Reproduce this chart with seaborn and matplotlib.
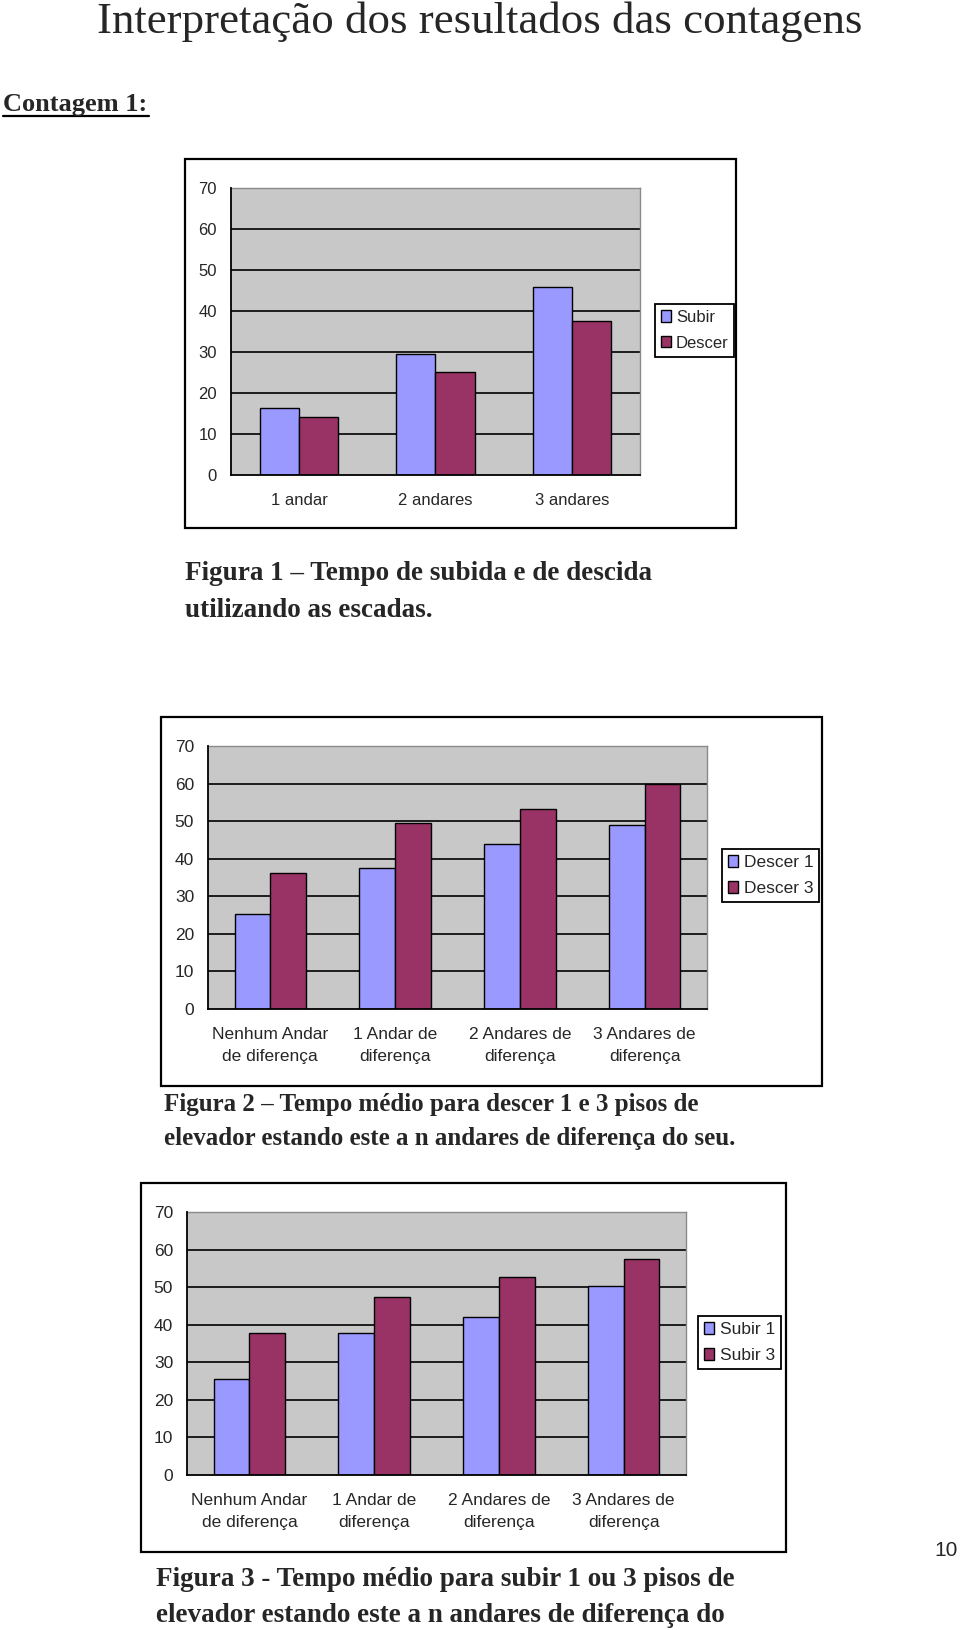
import numpy as np
import pandas as pd
import matplotlib
matplotlib.use('Agg')
import matplotlib.pyplot as plt
import seaborn as sns
from matplotlib.patches import Rectangle, Patch
from matplotlib.lines import Line2D

sns.set_style('white')
plt.rcParams['font.family'] = ['Liberation Sans', 'DejaVu Sans']

# ---------------- data ----------------
fig1_categories = ['1 andar', '2 andares', '3 andares']
fig1_series = ['Subir', 'Descer']
fig1_subir = [16.3, 29.5, 45.8]
fig1_descer = [14.2, 25.2, 37.6]

fig23_categories = ['Nenhum Andar\nde diferença', '1 Andar de\ndiferença',
                    '2 Andares de\ndiferença', '3 Andares de\ndiferença']
fig2_series = ['Descer 1', 'Descer 3']
fig2_descer1 = [25.2, 37.5, 43.9, 48.9]
fig2_descer3 = [36.3, 49.6, 53.1, 60.0]

fig3_series = ['Subir 1', 'Subir 3']
fig3_subir1 = [25.6, 37.8, 42.1, 50.2]
fig3_subir3 = [37.8, 47.5, 52.8, 57.5]

y_ticks = [0, 10, 20, 30, 40, 50, 60, 70]

page_title = 'Interpretação dos resultados das contagens'
section_title = 'Contagem 1:'
caption1 = ['Figura 1 – Tempo de subida e de descida', 'utilizando as escadas.']
caption2 = ['Figura 2 – Tempo médio para descer 1 e 3 pisos de',
            'elevador estando este a n andares de diferença do seu.']
caption3 = ['Figura 3 - Tempo médio para subir 1 ou 3 pisos de',
            'elevador estando este a n andares de diferença do']
page_number = '10'

# ---------------- style ----------------
W, H = 960, 1630
BLUE = '#9999FF'
PURPLE = '#993366'
PLOT_BG = '#C8C8C8'
SERIF = ['Liberation Serif', 'DejaVu Serif']
FS = 12.5

fig = plt.figure(figsize=(W / 100, H / 100), dpi=100)
fig.patch.set_facecolor('white')


def fx(x):
    return x / W


def fy(y):
    return 1 - y / H


def add_box(x0, y0, x1, y1):
    fig.patches.append(Rectangle((fx(x0), fy(y1)), fx(x1) - fx(x0), fy(y0) - fy(y1),
                                 transform=fig.transFigure, fill=False,
                                 edgecolor='black', linewidth=1.6))


def chart(plot_px, box_px, categories, s1, s2, names, legend_xy, fs=FS):
    add_box(*box_px)
    x0, y0, x1, y1 = plot_px
    ax = fig.add_axes([fx(x0), fy(y1), fx(x1) - fx(x0), fy(y0) - fy(y1)])
    n = len(categories)
    df = pd.DataFrame({'cat': list(categories) * 2,
                       'val': list(s1) + list(s2),
                       'serie': [names[0]] * n + [names[1]] * n})
    sns.barplot(data=df, x='cat', y='val', hue='serie', palette=[BLUE, PURPLE],
                width=0.575, edgecolor='black', linewidth=1.0, saturation=1,
                legend=False, errorbar=None, ax=ax, zorder=3)
    ax.set_facecolor(PLOT_BG)
    ax.set_xlim(-0.5, n - 0.5)
    ax.set_ylim(0, 70)
    ax.set_yticks(y_ticks)
    ax.set_yticklabels([str(v) for v in y_ticks], fontsize=fs)
    for v in y_ticks[1:-1]:
        ax.axhline(v, color='black', linewidth=1.2, zorder=1)
    ax.set_xticks(range(n))
    ax.set_xticklabels(categories, fontsize=fs, linespacing=1.6)
    ax.set_xticks(np.arange(-0.5, n, 1.0), minor=True)
    ax.tick_params(axis='x', which='major', length=0, pad=13)
    ax.tick_params(axis='x', which='minor', length=6, width=1.2, color='black', direction='out')
    ax.tick_params(axis='y', length=6, width=1.2, color='black', direction='out', pad=4)
    ax.set_xlabel('')
    ax.set_ylabel('')
    for s in ['left', 'bottom']:
        ax.spines[s].set_color('black')
        ax.spines[s].set_linewidth(1.3)
    for s in ['top', 'right']:
        ax.spines[s].set_color('#8a8a8a')
        ax.spines[s].set_linewidth(1.0)
    ax.spines['left'].set_zorder(5)
    ax.spines['bottom'].set_zorder(5)
    handles = [Patch(facecolor=BLUE, edgecolor='black', linewidth=1.0, label=names[0]),
               Patch(facecolor=PURPLE, edgecolor='black', linewidth=1.0, label=names[1])]
    leg = fig.legend(handles=handles, loc='upper left',
                     bbox_to_anchor=(fx(legend_xy[0]), fy(legend_xy[1])),
                     bbox_transform=fig.transFigure, fontsize=fs,
                     frameon=True, fancybox=False, framealpha=1,
                     edgecolor='black', handlelength=0.6, handleheight=0.65,
                     handletextpad=0.3, borderpad=0.35, borderaxespad=0,
                     labelspacing=0.65)
    leg.get_frame().set_linewidth(1.3)
    return ax


# ---------------- page text ----------------
fig.text(0.5, fy(22), page_title, ha='center', va='center', fontsize=32.3, family=SERIF)
fig.text(fx(3), fy(104), section_title, ha='left', va='center', fontsize=19,
         weight='bold', family=SERIF)
fig.add_artist(Line2D([fx(3), fx(149)], [fy(116), fy(116)], transform=fig.transFigure,
                      color='black', linewidth=1.6))

# ---------------- charts ----------------
chart((231, 188, 640, 475), (185, 159, 736, 528), fig1_categories,
      fig1_subir, fig1_descer, fig1_series, (655, 304), fs=12)
for i, line in enumerate(caption1):
    fig.text(fx(185), fy(574 + 36 * i), line, ha='left', va='center', fontsize=19.5,
             weight='bold', family=SERIF)

chart((208, 746, 707, 1009), (161, 717, 822, 1086), fig23_categories,
      fig2_descer1, fig2_descer3, fig2_series, (722, 849))
for i, line in enumerate(caption2):
    fig.text(fx(164), fy(1105 + 34 * i), line, ha='left', va='center', fontsize=18,
             weight='bold', family=SERIF)

chart((187, 1212, 686, 1475), (141, 1183, 786, 1552), fig23_categories,
      fig3_subir1, fig3_subir3, fig3_series, (698, 1316))
for i, line in enumerate(caption3):
    fig.text(fx(156), fy(1579 + 36 * i), line, ha='left', va='center', fontsize=19.5,
             weight='bold', family=SERIF)

fig.text(fx(946), fy(1550), page_number, ha='center', va='center', fontsize=15)

fig.savefig('out.png', dpi=100)
